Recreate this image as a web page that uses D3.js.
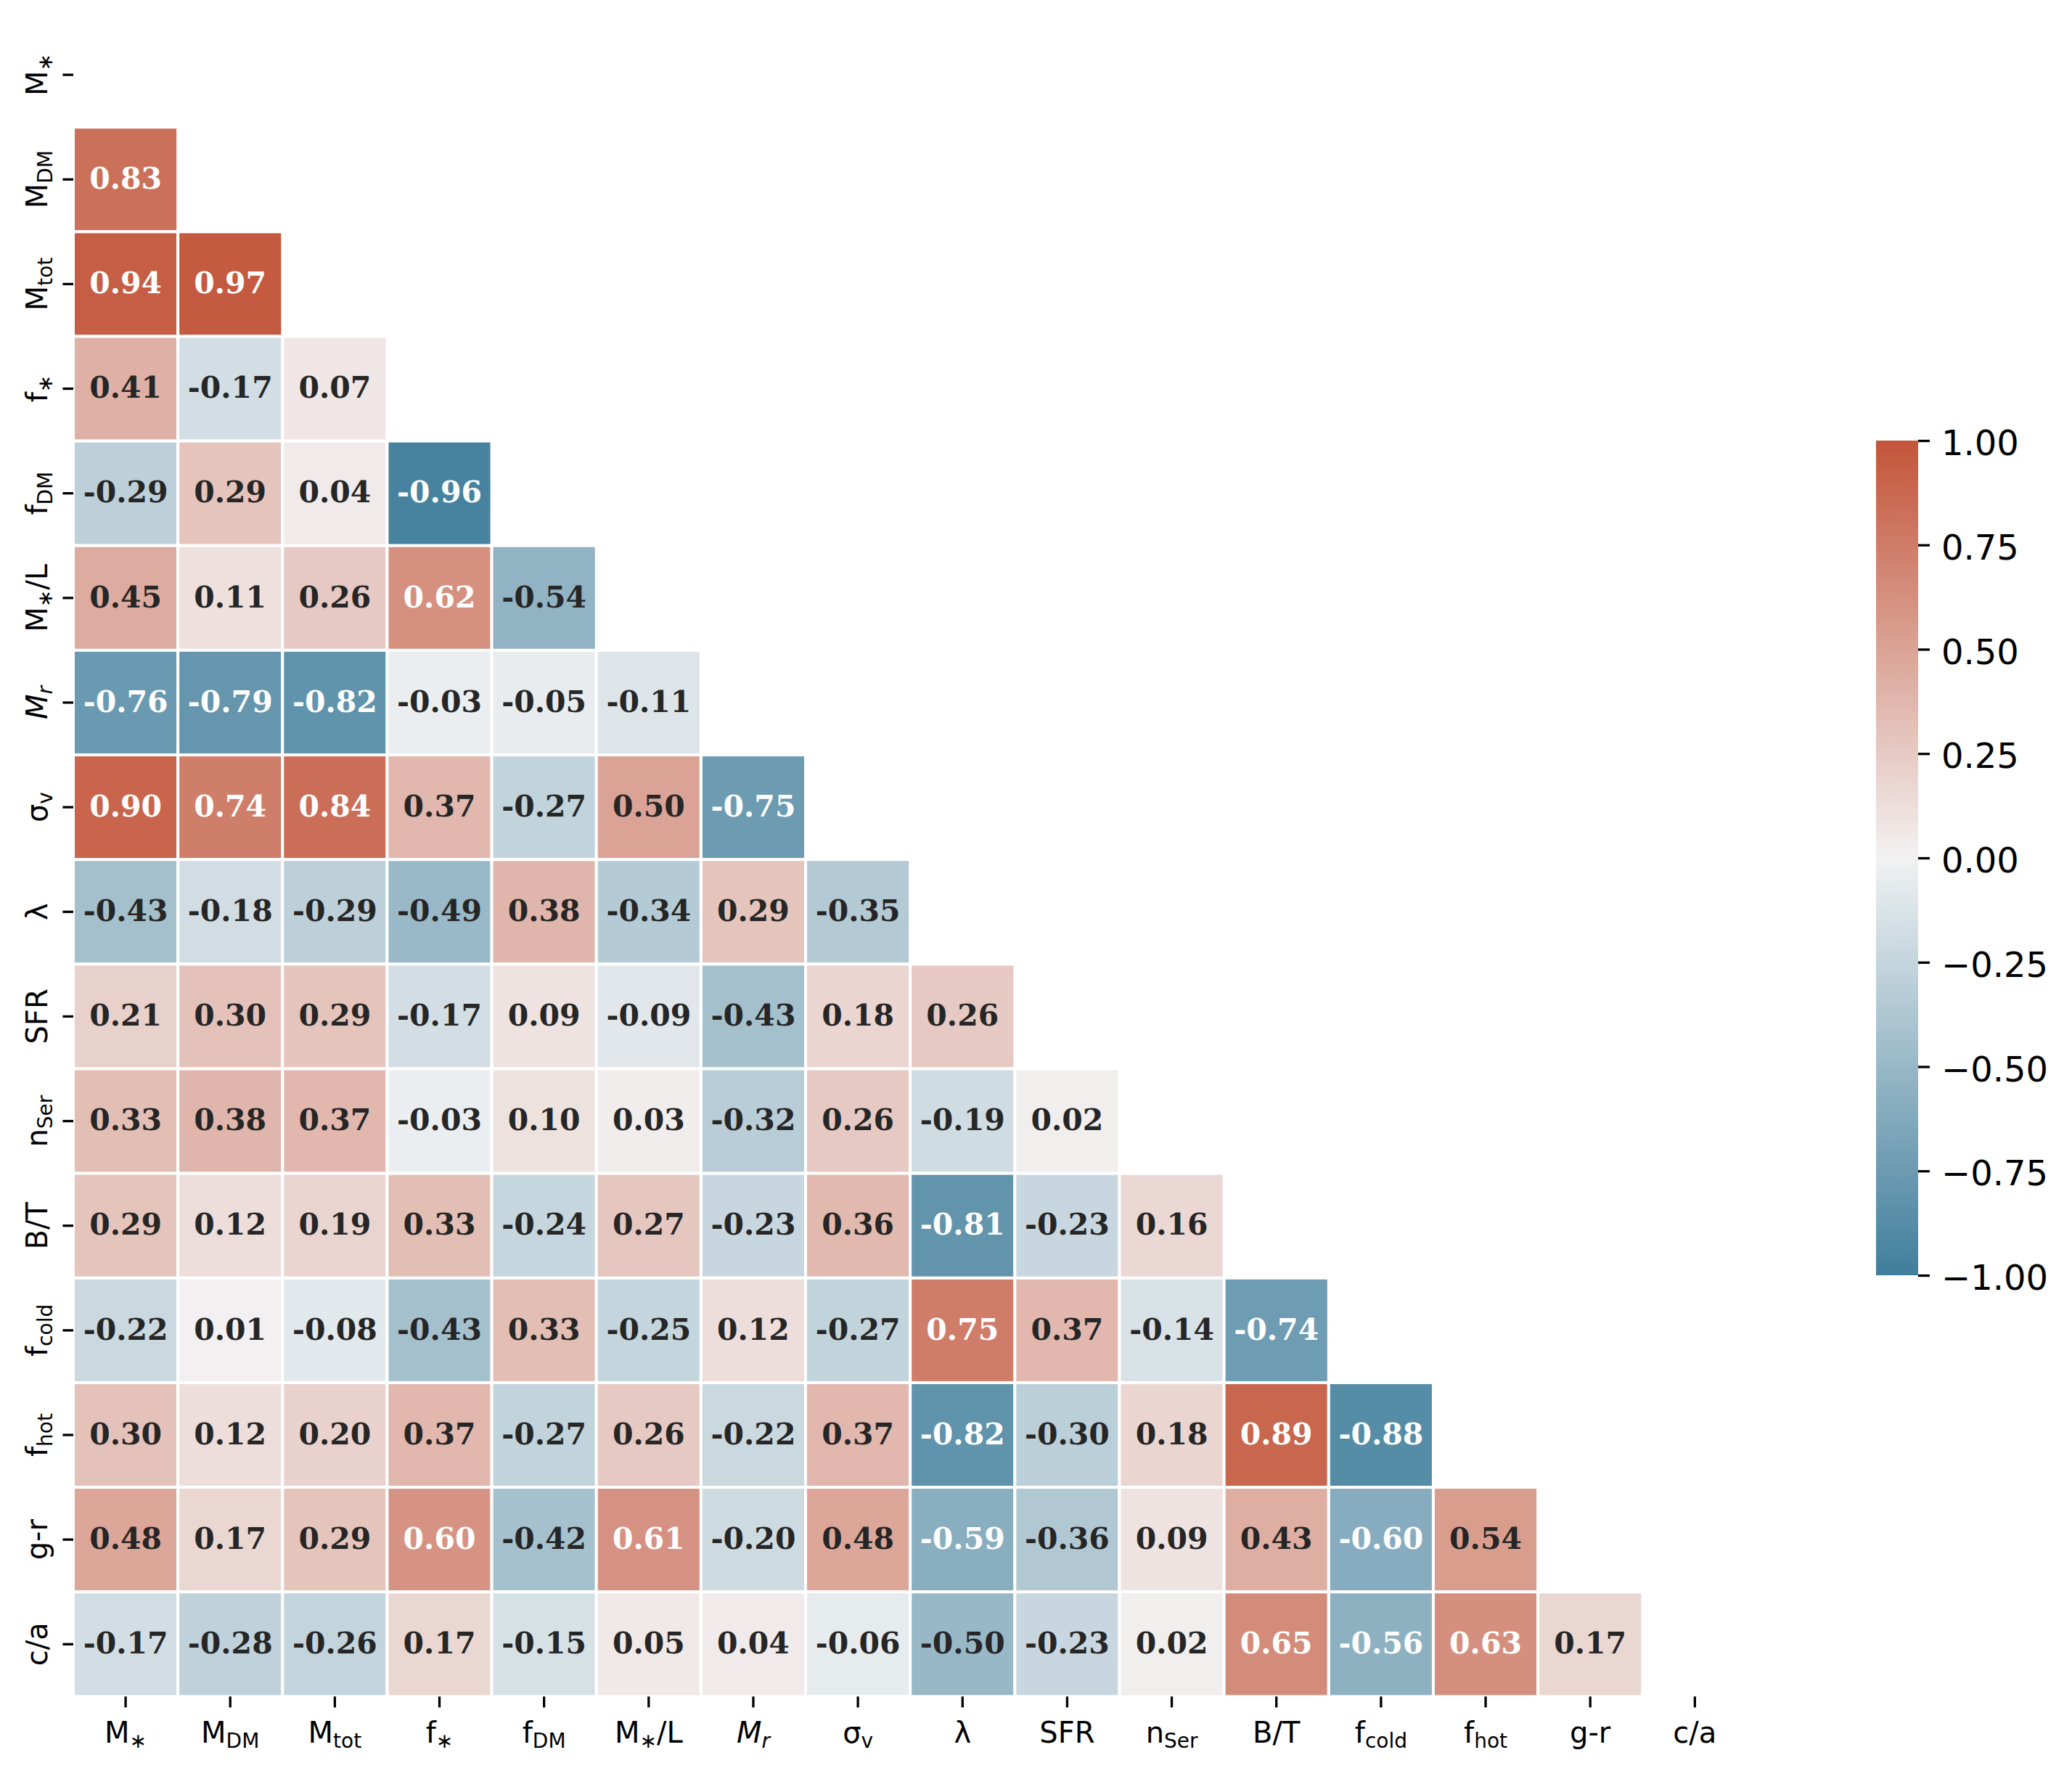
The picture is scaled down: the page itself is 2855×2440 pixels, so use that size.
<!DOCTYPE html>
<html>
<head>
<meta charset="utf-8">
<title></title>
<script src="https://cdn.jsdelivr.net/npm/d3@7"></script>
<style>
  body{margin:0;background:#fff;}
  .axis line{stroke:#000;stroke-width:3.3;}
  .axis path{display:none;}
  .lbl{font-family:"DejaVu Sans";font-size:40px;fill:#000;text-anchor:middle;}
  .cbar text{font-family:"DejaVu Sans";font-size:48px;fill:#000;}
  .val{font-family:"DejaVu Serif";font-weight:bold;font-size:41px;text-anchor:middle;}
</style>
</head>
<body>
<script>
// variable names; the part in _{...} is a subscript
var labels = ["M_{∗}","M_{DM}","M_{tot}","f_{∗}","f_{DM}","M_{∗}/L","M_{r}","σ_{v}","λ","SFR","n_{Ser}","B/T","f_{cold}","f_{hot}","g-r","c/a"];
var italicLabels = ["M_{r}"];

// lower triangle of the correlation matrix: row i holds columns 0..i-1
var corr = [
  [],
  [0.83],
  [0.94, 0.97],
  [0.41, -0.17, 0.07],
  [-0.29, 0.29, 0.04, -0.96],
  [0.45, 0.11, 0.26, 0.62, -0.54],
  [-0.76, -0.79, -0.82, -0.03, -0.05, -0.11],
  [0.90, 0.74, 0.84, 0.37, -0.27, 0.50, -0.75],
  [-0.43, -0.18, -0.29, -0.49, 0.38, -0.34, 0.29, -0.35],
  [0.21, 0.30, 0.29, -0.17, 0.09, -0.09, -0.43, 0.18, 0.26],
  [0.33, 0.38, 0.37, -0.03, 0.10, 0.03, -0.32, 0.26, -0.19, 0.02],
  [0.29, 0.12, 0.19, 0.33, -0.24, 0.27, -0.23, 0.36, -0.81, -0.23, 0.16],
  [-0.22, 0.01, -0.08, -0.43, 0.33, -0.25, 0.12, -0.27, 0.75, 0.37, -0.14, -0.74],
  [0.30, 0.12, 0.20, 0.37, -0.27, 0.26, -0.22, 0.37, -0.82, -0.30, 0.18, 0.89, -0.88],
  [0.48, 0.17, 0.29, 0.60, -0.42, 0.61, -0.20, 0.48, -0.59, -0.36, 0.09, 0.43, -0.60, 0.54],
  [-0.17, -0.28, -0.26, 0.17, -0.15, 0.05, 0.04, -0.06, -0.50, -0.23, 0.02, 0.65, -0.56, 0.63, 0.17]
];

var cbarTicks = [-1, -0.75, -0.5, -0.25, 0, 0.25, 0.5, 0.75, 1];

// diverging palette (husl 230 -> light -> husl 20)
var colorStops = [-1, -0.0078, 0, 0.0078, 1];
var colorRange = ["#407e9c", "#eff1f2", "#f2f2f2", "#f2f0f0", "#c3553a"];
var color = d3.scaleLinear().domain(colorStops).range(colorRange);

var width = 2855, height = 2440;
var svg = d3.select("body").append("svg")
    .attr("width", width)
    .attr("height", height)
    .style("background", "#fff");

var n = labels.length;
var cell = 144.15;
var padLeft = 101, padTop = 31;

var x = d3.scaleBand().domain(d3.range(n)).range([padLeft, padLeft + n * cell]);
var y = d3.scaleBand().domain(d3.range(n)).range([padTop, padTop + n * cell]);

var cells = [];
corr.forEach(function(row, i){
    row.forEach(function(v, j){ cells.push({row: i, col: j, v: v}); });
});

svg.append("g").selectAll("rect")
    .data(cells)
    .enter()
    .append("rect")
    .attr("x", function(d){ return x(d.col); })
    .attr("y", function(d){ return y(d.row); })
    .attr("width", x.bandwidth())
    .attr("height", y.bandwidth())
    .attr("fill", function(d){ return color(d.v); })
    .attr("stroke", "#fff")
    .attr("stroke-width", 4);

svg.append("g").selectAll("text")
    .data(cells)
    .enter()
    .append("text")
    .attr("class", "val")
    .attr("x", function(d){ return x(d.col) + x.bandwidth() / 2; })
    .attr("y", function(d){ return y(d.row) + y.bandwidth() / 2; })
    .attr("dy", "0.31em")
    .attr("fill", function(d){ return Math.abs(d.v) > 0.55 ? "#fff" : "#262626"; })
    .text(function(d){ return d.v.toFixed(2); });

// axes (ticks only, labels drawn below with subscripts)
svg.append("g")
    .attr("class", "axis")
    .attr("transform", "translate(" + padLeft + ",0)")
    .call(d3.axisLeft(y).tickSize(14.6).tickSizeOuter(0).tickFormat(""));

svg.append("g")
    .attr("class", "axis")
    .attr("transform", "translate(0," + (padTop + n * cell) + ")")
    .call(d3.axisBottom(x).tickSize(15).tickSizeOuter(0).tickFormat(""));

function writeLabel(t, s){
    var parts = s.split(/_\{([^}]*)\}/);
    if (italicLabels.indexOf(s) >= 0) t.style("font-style", "italic");
    var shifted = false;
    parts.forEach(function(p, k){
        if (!p) return;
        var ts = t.append("tspan").text(p);
        if (k % 2 == 1) {
            ts.attr("font-size", 28).attr("dy", 7);
            shifted = true;
        } else if (shifted) {
            ts.attr("dy", -7);
            shifted = false;
        }
    });
}

svg.append("g").selectAll("text")
    .data(labels)
    .enter()
    .append("text")
    .attr("class", "lbl")
    .attr("transform", function(d, i){
        return "translate(65," + (y(i) + y.bandwidth() / 2) + ") rotate(-90)";
    })
    .each(function(d){ writeLabel(d3.select(this), d); });

svg.append("g").selectAll("text")
    .data(labels)
    .enter()
    .append("text")
    .attr("class", "lbl")
    .attr("x", function(d, i){ return x(i) + x.bandwidth() / 2; })
    .attr("y", 2401)
    .each(function(d){ writeLabel(d3.select(this), d); });

// colorbar
var cbX = 2585, cbW = 58, cbTop = 607, cbBottom = 1757;
var cy = d3.scaleLinear().domain([-1, 1]).range([cbBottom, cbTop]);

var grad = svg.append("defs").append("linearGradient")
    .attr("id", "cbgrad")
    .attr("x1", 0).attr("y1", 1).attr("x2", 0).attr("y2", 0);
grad.selectAll("stop")
    .data(colorStops)
    .enter()
    .append("stop")
    .attr("offset", function(d){ return (d + 1) / 2; })
    .attr("stop-color", function(d){ return color(d); });

svg.append("rect")
    .attr("x", cbX)
    .attr("y", cbTop)
    .attr("width", cbW)
    .attr("height", cbBottom - cbTop)
    .attr("fill", "url(#cbgrad)");

var cbAxis = svg.append("g")
    .attr("class", "axis cbar")
    .attr("transform", "translate(" + (cbX + cbW) + ",0)")
    .call(d3.axisRight(cy).tickValues(cbarTicks).tickSize(16).tickPadding(16).tickFormat(d3.format(".2f")));
cbAxis.selectAll("text").attr("dy", "0.41em");
</script>
</body>
</html>
